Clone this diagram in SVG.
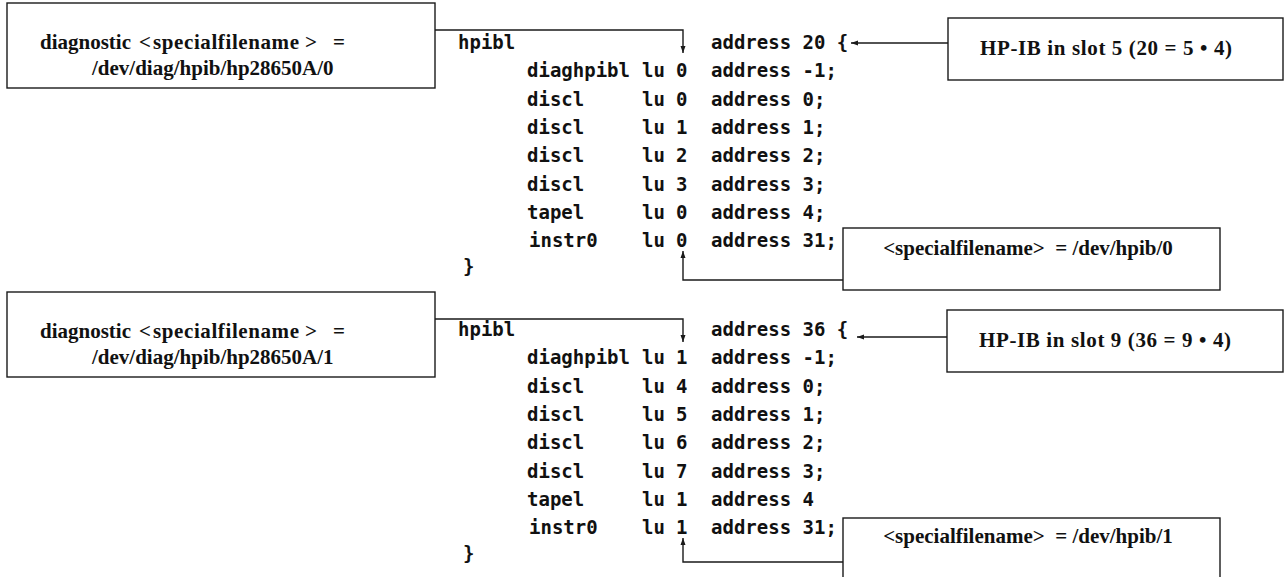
<svg xmlns="http://www.w3.org/2000/svg" width="1288" height="577" viewBox="0 0 1288 577">
<defs>
<marker id="ah" markerUnits="userSpaceOnUse" markerWidth="8" markerHeight="6" refX="7" refY="3" orient="auto"><path d="M0,0.5 L7,3 L0,5.5 z" fill="#1a1a1a"/></marker>
<style>
.box{fill:#fff;stroke:#1a1a1a;stroke-width:1.4}
.lbl{font-family:"Liberation Serif","Times New Roman",serif;font-weight:bold;font-size:21px;fill:#111;white-space:pre}
.mid{text-anchor:middle}
.ls{letter-spacing:0.6px}
.code{font-family:"DejaVu Sans Mono",monospace;font-weight:bold;font-size:19px;fill:#111;white-space:pre}
.con{fill:none;stroke:#1a1a1a;stroke-width:1.4}
</style>
</defs>
<rect width="1288" height="577" fill="#fff"/>
<g id="connectors">
<polyline class="con" points="435,30 683,30 683,53" marker-end="url(#ah)"/>
<polyline class="con" points="948,43 851,43" marker-end="url(#ah)"/>
<polyline class="con" points="843,280 683,280 683,251" marker-end="url(#ah)"/>
<polyline class="con" points="435,319 683,319 683,342" marker-end="url(#ah)"/>
<polyline class="con" points="947,337 857,337" marker-end="url(#ah)"/>
<polyline class="con" points="843,562 683,562 683,538" marker-end="url(#ah)"/>
</g>
<g id="diag0">
<rect class="box" x="7" y="3" width="428" height="85"/>
<text class="lbl" y="49"><tspan x="40">diagnostic</tspan><tspan x="139">&lt;</tspan><tspan x="153" class="ls">specialfilename</tspan><tspan x="305">&gt;</tspan><tspan x="333">=</tspan></text>
<text class="lbl" x="92" y="75">/dev/diag/hpib/hp28650A/0</text>
</g>
<g id="diag1">
<rect class="box" x="7" y="292" width="428" height="85"/>
<text class="lbl" y="338"><tspan x="40">diagnostic</tspan><tspan x="139">&lt;</tspan><tspan x="153" class="ls">specialfilename</tspan><tspan x="305">&gt;</tspan><tspan x="333">=</tspan></text>
<text class="lbl" x="92" y="364">/dev/diag/hpib/hp28650A/1</text>
</g>
<g id="slot5">
<rect class="box" x="948" y="18" width="335" height="62"/>
<text class="lbl" x="980" y="55" textLength="252">HP-IB in slot 5 (20 = 5 • 4)</text>
</g>
<g id="sf0">
<rect class="box" x="843" y="228" width="377" height="62"/>
<text class="lbl mid" x="1028" y="255">&lt;specialfilename&gt;  = /dev/hpib/0</text>
</g>
<g id="slot9">
<rect class="box" x="947" y="310" width="336" height="62"/>
<text class="lbl" x="979" y="347" textLength="252">HP-IB in slot 9 (36 = 9 • 4)</text>
</g>
<g id="sf1">
<rect class="box" x="843" y="518" width="377" height="64"/>
<text class="lbl mid" x="1028" y="543">&lt;specialfilename&gt;  = /dev/hpib/1</text>
</g>
<g id="block0" class="code">
<text x="458" y="49">hpibl</text><text x="711" y="49">address 20 {</text>
<text x="527" y="77">diaghpibl</text><text x="642" y="77">lu</text><text x="676" y="77">0</text><text x="711" y="77">address -1;</text>
<text x="527" y="106">discl</text><text x="642" y="106">lu</text><text x="676" y="106">0</text><text x="711" y="106">address 0;</text>
<text x="527" y="134">discl</text><text x="642" y="134">lu</text><text x="676" y="134">1</text><text x="711" y="134">address 1;</text>
<text x="527" y="162">discl</text><text x="642" y="162">lu</text><text x="676" y="162">2</text><text x="711" y="162">address 2;</text>
<text x="527" y="191">discl</text><text x="642" y="191">lu</text><text x="676" y="191">3</text><text x="711" y="191">address 3;</text>
<text x="527" y="219">tapel</text><text x="642" y="219">lu</text><text x="676" y="219">0</text><text x="711" y="219">address 4;</text>
<text x="529" y="247">instr0</text><text x="642" y="247">lu</text><text x="676" y="247">0</text><text x="711" y="247">address 31;</text>
<text x="463" y="273">}</text>
</g>
<g id="block1" class="code">
<text x="458" y="336">hpibl</text><text x="711" y="336">address 36 {</text>
<text x="527" y="364">diaghpibl</text><text x="642" y="364">lu</text><text x="676" y="364">1</text><text x="711" y="364">address -1;</text>
<text x="527" y="393">discl</text><text x="642" y="393">lu</text><text x="676" y="393">4</text><text x="711" y="393">address 0;</text>
<text x="527" y="421">discl</text><text x="642" y="421">lu</text><text x="676" y="421">5</text><text x="711" y="421">address 1;</text>
<text x="527" y="449">discl</text><text x="642" y="449">lu</text><text x="676" y="449">6</text><text x="711" y="449">address 2;</text>
<text x="527" y="478">discl</text><text x="642" y="478">lu</text><text x="676" y="478">7</text><text x="711" y="478">address 3;</text>
<text x="527" y="506">tapel</text><text x="642" y="506">lu</text><text x="676" y="506">1</text><text x="711" y="506">address 4</text>
<text x="529" y="534">instr0</text><text x="642" y="534">lu</text><text x="676" y="534">1</text><text x="711" y="534">address 31;</text>
<text x="463" y="560">}</text>
</g>
</svg>
